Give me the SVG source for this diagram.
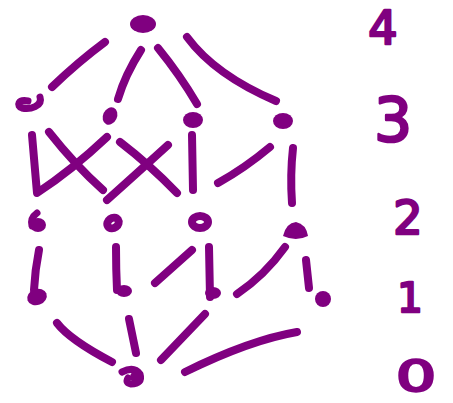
<svg xmlns="http://www.w3.org/2000/svg" width="453" height="403" viewBox="0 0 453 403">
<style>
.e{fill:none;stroke:#800080;stroke-width:8;stroke-linecap:round;stroke-linejoin:round}
.n{fill:#800080}
.c{fill:none;stroke:#800080;stroke-width:7;stroke-linecap:round;stroke-linejoin:round}
.r{fill:none;stroke:#800080;stroke-width:8}
.t{font-family:"DejaVu Sans",sans-serif;fill:#800080;stroke:#800080;stroke-width:2.5;stroke-linejoin:round;text-anchor:middle}
</style>
<rect width="453" height="403" fill="#fff"/>
<g id="connectors">
<path class="e" d="M105,42 Q78,62 52,87"/>
<path class="e" d="M141,50 Q125,75 118,99"/>
<path class="e" d="M158,48 Q180,75 197,104"/>
<path class="e" d="M187,37 Q215,75 276,101"/>
<path class="e" d="M32,135 L37,193 Q72,170 107,137"/>
<path class="e" d="M49,132 Q75,165 103,190"/>
<path class="e" d="M120,142 Q150,165 177,193"/>
<path class="e" d="M168,145 Q135,175 107,200"/>
<path class="e" d="M192,135 L193,190"/>
<path class="e" d="M270,147 Q245,168 218,183"/>
<path class="e" d="M293,148 Q290,175 292,203"/>
<path class="e" d="M39,250 Q35,270 34,290"/>
<path class="e" d="M116,247 Q116,270 117,290"/>
<path class="e" d="M192,250 L155,283"/>
<path class="e" d="M209,247 L210,297"/>
<path class="e" d="M285,247 Q265,275 237,294"/>
<path class="e" d="M306,260 L309,288"/>
<path class="e" d="M57,323 Q70,340 112,362"/>
<path class="e" d="M129,319 L136,353"/>
<path class="e" d="M205,314 Q180,340 161,360"/>
<path class="e" d="M297,332 Q250,340 185,372"/>
</g>
<g id="n4"><ellipse class="n" cx="143" cy="24" rx="13" ry="9"/></g>
<g id="n3a"><path class="c" d="M40,97 C43,106 30,110 22,108 C16,106 18,99 28,101"/></g>
<g id="n3b"><ellipse class="n" cx="110" cy="116" rx="7" ry="9" transform="rotate(25 110 116)"/></g>
<g id="n3c"><ellipse class="n" cx="193" cy="120" rx="10" ry="8"/></g>
<g id="n3d"><ellipse class="n" cx="283" cy="121" rx="10" ry="8"/></g>
<g id="n2a"><path class="c" d="M37,213 Q30,218 32,226"/><ellipse class="n" cx="38" cy="225" rx="8" ry="7"/></g>
<g id="n2b"><ellipse class="r" cx="113" cy="223" rx="6" ry="5" transform="rotate(-35 113 223)"/></g>
<g id="n2c"><ellipse class="r" cx="200" cy="222" rx="8" ry="6"/></g>
<g id="n2d"><path class="n" d="M283,236 Q286,223 296,222 Q306,224 308,236 Q296,242 283,236 Z"/></g>
<g id="n1a"><ellipse class="n" cx="37" cy="297" rx="10" ry="8" transform="rotate(-20 37 297)"/></g>
<g id="n1b"><ellipse class="n" cx="124" cy="291" rx="8" ry="6"/></g>
<g id="n1c"><ellipse class="n" cx="213" cy="293" rx="8" ry="6"/></g>
<g id="n1d"><ellipse class="n" cx="323" cy="299" rx="8" ry="8"/></g>
<g id="n0"><path class="c" d="M122,372 Q134,366 140,374 Q143,384 131,384 Q125,383 128,378"/><ellipse class="n" cx="136" cy="377" rx="6" ry="6"/></g>
<g id="labels">
<text class="t" x="383" y="44" font-size="46">4</text>
<text class="t" x="393" y="141" font-size="60">3</text>
<text class="t" x="408" y="234" font-size="46">2</text>
<text class="t" x="410" y="312" font-size="40">1</text>
<text class="t" transform="translate(416,391) scale(1.5,1)" font-size="42">0</text>
</g>
</svg>
